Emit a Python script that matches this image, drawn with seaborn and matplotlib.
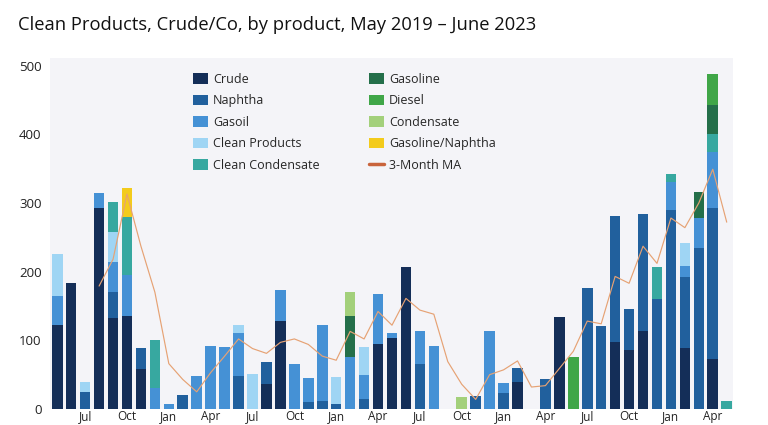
"""Monthly liftings by product, stacked bars with 3-month moving average."""

import numpy as np
import pandas as pd
import matplotlib
matplotlib.use("Agg")
import matplotlib.pyplot as plt
from matplotlib.patches import Patch
from matplotlib.lines import Line2D
import seaborn as sns

# months May 2019 .. May 2023
months = pd.period_range("2019-05", "2023-05", freq="M")

products = [
    "Crude", "Naphtha", "Gasoil", "Clean Products", "Clean Condensate",
    "Gasoline", "Diesel", "Condensate", "Gasoline/Naphtha",
]

# values per month (index into months), by product
crude = {0: 122, 1: 184, 3: 292, 4: 133, 5: 135, 6: 58, 15: 36, 16: 128,
         23: 95, 24: 103, 25: 207, 33: 40, 36: 134, 40: 97, 41: 86, 42: 113,
         45: 89, 47: 73}
naphtha = {2: 25, 4: 37, 6: 31, 9: 20, 13: 48, 15: 32, 18: 10, 19: 12, 20: 7,
           22: 15, 26: 65, 30: 19, 32: 23, 33: 19, 35: 43, 38: 176, 39: 121,
           40: 184, 41: 60, 42: 171, 43: 160, 44: 289, 45: 103, 46: 235,
           47: 220}
gasoil = {0: 43, 3: 23, 4: 44, 5: 60, 7: 30, 8: 8, 10: 48, 11: 92, 12: 90,
          13: 63, 16: 45, 17: 65, 18: 35, 19: 110, 21: 76, 22: 34, 23: 72,
          24: 7, 26: 49, 27: 92, 31: 114, 32: 15, 44: 42, 45: 16, 46: 43,
          47: 81}
clean_products = {0: 60, 2: 14, 4: 44, 13: 12, 14: 51, 20: 39, 22: 41, 45: 34}
clean_condensate = {4: 43, 5: 85, 7: 70, 43: 47, 44: 11, 47: 26, 48: 11}
gasoline = {21: 59, 46: 38, 47: 42}
diesel = {37: 75, 47: 46}
condensate = {21: 35, 29: 17}
gasoline_naphtha = {5: 42}

# 3-month moving average of the totals, starts Aug 2019
ma_3m = [179, 218, 313, 237, 170, 66, 43, 25, 53, 77, 102, 88, 81, 97, 102,
         94, 77, 71, 113, 102, 142, 122, 161, 144, 138, 69, 36, 14, 50, 57,
         70, 32, 34, 59, 84, 128, 124, 193, 183, 237, 212, 278, 264, 300,
         349, 272]

colors = {
    "Crude": "#142e58",
    "Naphtha": "#21609d",
    "Gasoil": "#4591d5",
    "Clean Products": "#9fd5f4",
    "Clean Condensate": "#37a8a0",
    "Gasoline": "#246f4a",
    "Diesel": "#40a648",
    "Condensate": "#a3d07b",
    "Gasoline/Naphtha": "#f3cb1c",
}
ma_color = "#c9643c"

series = [crude, naphtha, gasoil, clean_products, clean_condensate,
          gasoline, diesel, condensate, gasoline_naphtha]

rows = []
for name, vals in zip(products, series):
    for i in range(len(months)):
        rows.append({"idx": i, "product": name, "value": vals.get(i, 0)})
df = pd.DataFrame(rows)

sns.set_theme(style="white")
plt.rcParams["font.family"] = ["Open Sans", "DejaVu Sans"]

fig = plt.figure(figsize=(7.68, 4.25), dpi=100)
ax = fig.add_axes([50 / 768, 1 - 409 / 425, 683 / 768, 351 / 425])
ax.set_facecolor("#f4f4f8")

# seaborn stacks the first hue level on top, so feed them reversed
sns.histplot(
    data=df, x="idx", weights="value", hue="product",
    hue_order=products[::-1], palette=colors,
    multiple="stack", discrete=True, shrink=0.76,
    element="bars", alpha=1, linewidth=0, edgecolor="none",
    legend=False, ax=ax,
)

ma_x = np.arange(3, 3 + len(ma_3m))
sns.lineplot(x=ma_x, y=ma_3m, color="#e6a274", lw=0.85, ax=ax)

ax.set_xlim(-0.52, 48.45)
ax.set_ylim(0, 511)
ax.set_yticks([0, 100, 200, 300, 400, 500])
tick_idx = [i for i, m in enumerate(months) if m.month in (1, 4, 7, 10)]
ax.set_xticks(tick_idx)
ax.set_xticklabels([months[i].strftime("%b") for i in tick_idx])
ax.tick_params(axis="both", length=0, labelsize=9.5, colors="#222222")
ax.tick_params(axis="y", pad=6)
ax.tick_params(axis="x", pad=1, labelsize=8.5)
ax.set_xlabel("")
ax.set_ylabel("")
for s in ax.spines.values():
    s.set_visible(False)

handles = [Patch(facecolor=colors[p], edgecolor="none", label=p) for p in products]
handles.append(Line2D([0], [0], color=ma_color, lw=2.5, label="3-Month MA"))
ax.legend(
    handles=handles, ncol=2, loc="upper left",
    bbox_to_anchor=(0.196, 0.983), frameon=False, fontsize=9,
    handlelength=1.2, handleheight=0.95, handletextpad=0.45,
    labelspacing=0.68, columnspacing=3.9, borderpad=0.2,
)

fig.text(18 / 768, 1 - 25 / 425,
         "Clean Products, Crude/Co, by product, May 2019 \u2013 June 2023",
         fontsize=13.2, va="center", ha="left", color="#111111")

fig.savefig("out.png", dpi=100)
plt.close(fig)
